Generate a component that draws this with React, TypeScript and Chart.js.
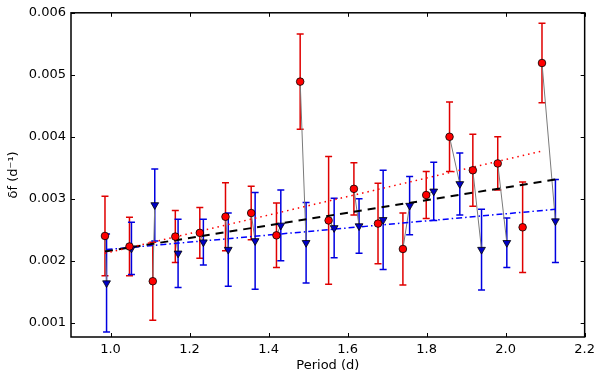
import React, { useEffect, useRef } from "react";
import { Chart, registerables } from "chart.js";
Chart.register(...registerables);

// ---- data ----
const redPeriod = [0.986, 1.048, 1.107, 1.164, 1.226, 1.291, 1.356, 1.42, 1.48, 1.552, 1.616, 1.677, 1.74, 1.799, 1.858, 1.917, 1.98, 2.043, 2.092];
const redDf = [0.0024, 0.00223, 0.00167, 0.00239, 0.00245, 0.00271, 0.00277, 0.00241, 0.00489, 0.00265, 0.00316, 0.0026, 0.00219, 0.00306, 0.004, 0.00346, 0.00357, 0.00254, 0.00519];
const redErr = [0.00064, 0.00047, 0.00063, 0.00042, 0.00041, 0.00055, 0.00043, 0.00052, 0.00077, 0.00103, 0.00042, 0.00065, 0.00058, 0.00038, 0.00056, 0.00058, 0.00043, 0.00073, 0.00064];

const bluePeriod = [0.99, 1.053, 1.112, 1.171, 1.235, 1.298, 1.366, 1.431, 1.495, 1.566, 1.629, 1.69, 1.757, 1.818, 1.884, 1.939, 2.003, 2.126];
const blueDf = [0.00164, 0.0022, 0.0029, 0.00212, 0.0023, 0.00218, 0.00232, 0.00257, 0.00229, 0.00253, 0.00256, 0.00266, 0.00289, 0.00312, 0.00324, 0.00218, 0.00229, 0.00264];
const blueErr = [0.00079, 0.00042, 0.00058, 0.00055, 0.00037, 0.00059, 0.00078, 0.00057, 0.00065, 0.00048, 0.00044, 0.0008, 0.00047, 0.00047, 0.0005, 0.00065, 0.0004, 0.00067];

// which red point is joined to which blue point
const pairRed = [0, 1, 2, 3, 4, 5, 6, 7, 8, 9, 10, 11, 12, 13, 14, 15, 16, 18];
const pairBlue = [0, 1, 2, 3, 4, 5, 6, 7, 8, 9, 10, 11, 12, 13, 14, 15, 16, 17];

// linear fits (end points)
const fitRedPeriod = [0.986, 2.092];
const fitRedDf = [0.00212, 0.00377];
const fitAllPeriod = [0.986, 2.126];
const fitAllDf = [0.00215, 0.00331];
const fitBluePeriod = [0.99, 2.126];
const fitBlueDf = [0.00218, 0.00283];

const xTickValues = [1.0, 1.2, 1.4, 1.6, 1.8, 2.0, 2.2];
const yTickValues = [0.001, 0.002, 0.003, 0.004, 0.005, 0.006];
const xMin = 0.9, xMax = 2.2;
const yMin = 0.00077, yMax = 0.006;

const FONT = "'DejaVu Sans', sans-serif";

const pts = (xs: number[], ys: number[]) => xs.map((x, i) => ({ x, y: ys[i] }));

const errorBarPlugin = {
  id: "errorBars",
  beforeDatasetsDraw(chart: any) {
    const { ctx, scales } = chart;
    const xs = scales.x, ys = scales.y;
    const draw = (px: number[], py: number[], pe: number[], color: string) => {
      ctx.save();
      ctx.strokeStyle = color;
      ctx.lineWidth = 1.5;
      px.forEach((p, i) => {
        const X = xs.getPixelForValue(p);
        const Y1 = ys.getPixelForValue(py[i] - pe[i]);
        const Y2 = ys.getPixelForValue(py[i] + pe[i]);
        ctx.beginPath();
        ctx.moveTo(X, Y1); ctx.lineTo(X, Y2);
        ctx.moveTo(X - 3.5, Y1); ctx.lineTo(X + 3.5, Y1);
        ctx.moveTo(X - 3.5, Y2); ctx.lineTo(X + 3.5, Y2);
        ctx.stroke();
      });
      ctx.restore();
    };
    draw(redPeriod, redDf, redErr, "#e00000");
    draw(bluePeriod, blueDf, blueErr, "#0000e0");
  },
};

const framePlugin = {
  id: "frame",
  afterDraw(chart: any) {
    const { ctx, chartArea: a, scales } = chart;
    ctx.save();
    ctx.strokeStyle = "#000";
    ctx.lineWidth = 1;
    ctx.beginPath();
    xTickValues.forEach((v) => {
      const X = Math.round(scales.x.getPixelForValue(v)) + 0.5;
      ctx.moveTo(X, a.bottom); ctx.lineTo(X, a.bottom - 4);
      ctx.moveTo(X, a.top); ctx.lineTo(X, a.top + 4);
    });
    yTickValues.forEach((v) => {
      const Y = Math.round(scales.y.getPixelForValue(v)) + 0.5;
      ctx.moveTo(a.left, Y); ctx.lineTo(a.left + 4, Y);
      ctx.moveTo(a.right, Y); ctx.lineTo(a.right - 4, Y);
    });
    ctx.stroke();
    ctx.lineWidth = 1.5;
    ctx.strokeRect(a.left, a.top, a.right - a.left, a.bottom - a.top);
    ctx.restore();
  },
};

export default function App() {
  const ref = useRef<HTMLCanvasElement>(null);
  useEffect(() => {
    const greyData: any[] = [];
    pairRed.forEach((r, i) => {
      const b = pairBlue[i];
      greyData.push({ x: redPeriod[r], y: redDf[r] });
      greyData.push({ x: bluePeriod[b], y: blueDf[b] });
      greyData.push({ x: bluePeriod[b], y: null });
    });
    const chart = new Chart(ref.current!, {
      type: "scatter",
      data: {
        datasets: [
          {
            label: "red",
            data: pts(redPeriod, redDf),
            pointStyle: "circle",
            pointRadius: 3.8,
            backgroundColor: "#ff0000",
            borderColor: "#000",
            borderWidth: 0.8,
            order: 0,
          },
          {
            label: "blue",
            data: pts(bluePeriod, blueDf),
            pointStyle: "triangle",
            rotation: 180,
            pointRadius: 4.5,
            backgroundColor: "#0000c8",
            borderColor: "#000",
            borderWidth: 0.8,
            order: 0,
          },
          {
            label: "fit red",
            data: pts(fitRedPeriod, fitRedDf),
            showLine: true,
            pointRadius: 0,
            borderColor: "#ff0000",
            borderWidth: 1.5,
            borderDash: [1.5, 4],
            order: 1,
          },
          {
            label: "fit all",
            data: pts(fitAllPeriod, fitAllDf),
            showLine: true,
            pointRadius: 0,
            borderColor: "#000",
            borderWidth: 2,
            borderDash: [8, 6],
            order: 1,
          },
          {
            label: "fit blue",
            data: pts(fitBluePeriod, fitBlueDf),
            showLine: true,
            pointRadius: 0,
            borderColor: "#0000ff",
            borderWidth: 1.5,
            borderDash: [6, 3, 1.5, 3],
            order: 1,
          },
          {
            label: "pairs",
            data: greyData,
            showLine: true,
            spanGaps: false,
            pointRadius: 0,
            borderColor: "#7a7a7a",
            borderWidth: 1,
            order: 2,
          },
        ],
      },
      options: {
        animation: false,
        responsive: false,
        devicePixelRatio: 1,
        layout: { padding: { left: 0, top: 11, right: 13, bottom: 0 } },
        plugins: { legend: { display: false }, tooltip: { enabled: false } },
        scales: {
          x: {
            type: "linear",
            min: xMin,
            max: xMax,
            grid: { display: false, drawTicks: false },
            border: { display: false },
            afterBuildTicks: (s: any) => { s.ticks = xTickValues.map((v) => ({ value: v })); },
            afterFit: (s: any) => { s.height = 38; },
            ticks: {
              color: "#000",
              padding: 5,
              maxRotation: 0,
              font: { family: FONT, size: 13 },
              callback: (v: any) => Number(v).toFixed(1),
            },
            title: {
              display: true,
              text: "Period (d)",
              color: "#000",
              padding: { top: 0, bottom: 2 },
              font: { family: FONT, size: 13 },
            },
          },
          y: {
            type: "linear",
            min: yMin,
            max: yMax,
            grid: { display: false, drawTicks: false },
            border: { display: false },
            afterBuildTicks: (s: any) => { s.ticks = yTickValues.map((v) => ({ value: v })); },
            afterFit: (s: any) => { s.width = 71; },
            ticks: {
              color: "#000",
              padding: 5,
              font: { family: FONT, size: 13 },
              callback: (v: any) => Number(v).toFixed(3),
            },
            title: {
              display: true,
              text: "δf (d⁻¹)",
              color: "#000",
              padding: { top: 6, bottom: 0 },
              font: { family: FONT, size: 13 },
            },
          },
        },
      },
      plugins: [errorBarPlugin, framePlugin],
    } as any);
    return () => chart.destroy();
  }, []);
  return (
    <div style={{ position: "absolute", left: 0, top: 0, width: 600, height: 375, background: "#fff" }}>
      <canvas ref={ref} width={600} height={375} style={{ display: "block", width: 600, height: 375 }} />
    </div>
  );
}
